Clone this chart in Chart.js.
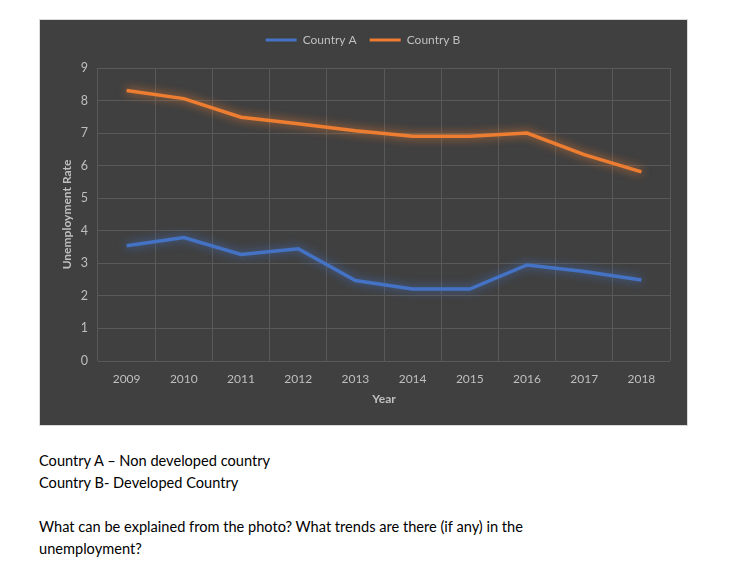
<!DOCTYPE html>
<html>
<head>
<meta charset="utf-8">
<script src="https://cdn.jsdelivr.net/npm/chart.js@4"></script>
<style>
    body { margin: 0; background: #ffffff; width: 735px; height: 563px; position: relative; }
    #chartBox {
        position: absolute; left: 39px; top: 19px; width: 649px; height: 407px;
        box-sizing: border-box; border: 1px solid #d9d9d9; background: #404040;
    }
    #chartBox canvas { display: block; }
    .notes {
        position: absolute; left: 39px; top: 450px;
        font-family: Lato, "Noto Sans", sans-serif; font-size: 14.6px; line-height: 22px; color: #000;
    }
    .notes p { margin: 0 0 22px 0; }
</style>
</head>
<body>
<div id="chartBox"><canvas id="unemploymentChart" width="647" height="405"></canvas></div>
<div class="notes">
    <p>Country A – Non developed country<br>Country B- Developed Country</p>
    <p>What can be explained from the photo? What trends are there (if any) in the<br>unemployment?</p>
</div>
<script>
// data
const years = ['2009', '2010', '2011', '2012', '2013', '2014', '2015', '2016', '2017', '2018'];
const countryA = [3.54, 3.79, 3.27, 3.45, 2.47, 2.21, 2.21, 2.95, 2.75, 2.49];
const countryB = [8.31, 8.06, 7.49, 7.29, 7.07, 6.90, 6.90, 7.00, 6.34, 5.81];
const yTicks = [0, 1, 2, 3, 4, 5, 6, 7, 8, 9];

const textColor = '#bfbfbf';
const gridColor = '#595959';
const fontFamily = 'Lato, "Noto Sans", sans-serif';

// soft glow under each line
const glowPlugin = {
    id: 'glow',
    beforeDatasetDraw(chart, args) {
        const ctx = chart.ctx;
        const ds = chart.data.datasets[args.index];
        ctx.save();
        ctx.shadowColor = ds.glowColor;
        ctx.shadowBlur = 10;
    },
    afterDatasetDraw(chart) {
        chart.ctx.restore();
    }
};

// extra room between the legend and the plot
const legendGap = {
    id: 'legendGap',
    beforeInit(chart) {
        const fit = chart.legend.fit;
        chart.legend.fit = function () {
            fit.call(this);
            this.height += 12;
        };
    }
};

const ctx = document.getElementById('unemploymentChart').getContext('2d');
new Chart(ctx, {
    type: 'line',
    data: {
        labels: years,
        datasets: [{
            label: 'Country A',
            data: countryA,
            borderColor: '#4472c4',
            backgroundColor: '#4472c4',
            glowColor: 'rgba(68, 114, 196, 0.9)',
            borderWidth: 3.5,
            pointRadius: 0,
            tension: 0
        }, {
            label: 'Country B',
            data: countryB,
            borderColor: '#ed7d31',
            backgroundColor: '#ed7d31',
            glowColor: 'rgba(237, 125, 49, 0.9)',
            borderWidth: 3.5,
            pointRadius: 0,
            tension: 0
        }]
    },
    plugins: [glowPlugin, legendGap],
    options: {
        responsive: false,
        animation: false,
        layout: { padding: { left: 16, right: 17, top: 1, bottom: 15 } },
        plugins: {
            tooltip: { enabled: false },
            legend: {
                position: 'top',
                labels: {
                    color: textColor,
                    font: { family: fontFamily, size: 12 },
                    boxWidth: 31,
                    boxHeight: 3,
                    padding: 13,
                    generateLabels(chart) {
                        const items = Chart.defaults.plugins.legend.labels.generateLabels(chart);
                        items.forEach(it => { it.lineWidth = 0; });
                        return items;
                    }
                }
            }
        },
        scales: {
            x: {
                offset: true,
                grid: { offset: true, color: gridColor, drawTicks: false },
                border: { display: false },
                ticks: { color: textColor, font: { family: fontFamily, size: 12 }, padding: 11, maxRotation: 0 },
                title: {
                    display: true, text: 'Year', color: textColor,
                    font: { family: fontFamily, size: 12, weight: 'bold' },
                    padding: { top: 4, bottom: 4 }
                },
                afterFit(scale) { scale.height = 49; }
            },
            y: {
                min: 0,
                max: 9,
                grid: { color: gridColor, drawTicks: false },
                border: { display: false },
                afterBuildTicks(scale) { scale.ticks = yTicks.map(v => ({ value: v })); },
                ticks: { color: textColor, font: { family: fontFamily, size: 12.5 }, padding: 10 },
                title: {
                    display: true, text: 'Unemployment Rate', color: textColor,
                    font: { family: fontFamily, size: 12, weight: 'bold' },
                    padding: { top: 4, bottom: 4 }
                },
                afterFit(scale) { scale.width = 42; }
            }
        }
    }
});
</script>
</body>
</html>
